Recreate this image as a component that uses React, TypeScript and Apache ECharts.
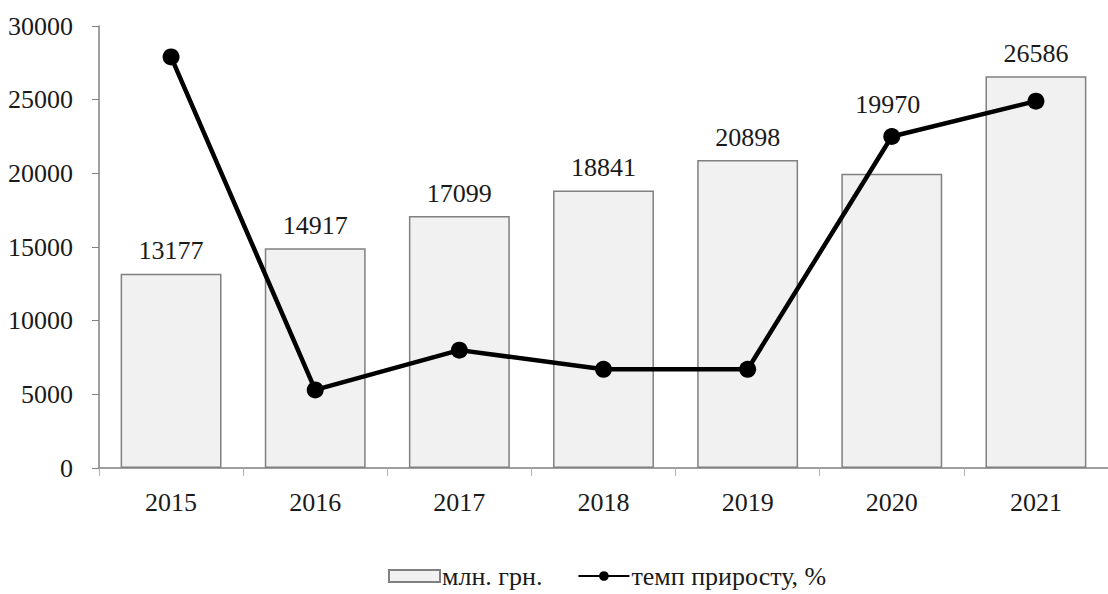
import React, { useEffect, useRef } from "react";
import * as echarts from "echarts";

// Years on the category axis
const years = ["2015", "2016", "2017", "2018", "2019", "2020", "2021"];
// Volume, млн. грн.
const volume = [13177, 14917, 17099, 18841, 20898, 19970, 26586];
// Growth rate, % (drawn on a hidden secondary axis)
const growth = [27.9, 5.3, 8.0, 6.7, 6.7, 22.5, 24.9];

const FONT = "Times New Roman, Liberation Serif, DejaVu Serif, serif";
const TEXT = "#1a1a1a";
const AXIS = "#808080";
const FS = 26;

export default function App() {
  const ref = useRef<HTMLDivElement>(null);

  useEffect(() => {
    if (!ref.current) return;
    const chart = echarts.init(ref.current, undefined, { renderer: "svg" });

    const barData = volume.map((v, i) =>
      // the 2020 label sits above the line marker
      i === 5 ? { value: v, label: { distance: 56, offset: [-4, 0] } } : v
    );

    chart.setOption({
      animation: false,
      backgroundColor: "#ffffff",
      textStyle: { fontFamily: FONT },
      grid: { left: 99, right: -4, top: 26, bottom: 126, containLabel: false },
      legend: {
        left: 383,
        top: 558,
        itemWidth: 51,
        itemHeight: 12,
        itemGap: 35,
        textStyle: { fontFamily: FONT, fontSize: FS, color: TEXT, padding: [0, 0, 0, -3] },
        data: [
          { name: "млн. грн.", icon: "rect" },
          { name: "темп приросту, %" },
        ],
      },
      xAxis: {
        type: "category",
        data: years,
        boundaryGap: true,
        axisLine: { lineStyle: { color: AXIS, width: 1.5 } },
        axisTick: { show: true, length: 8, lineStyle: { color: "#b0b0b0" } },
        axisLabel: { fontFamily: FONT, fontSize: FS, color: TEXT, margin: 21 },
      },
      yAxis: [
        {
          type: "value",
          min: 0,
          max: 30000,
          interval: 5000,
          splitLine: { show: false },
          axisLine: { show: true, lineStyle: { color: AXIS, width: 1.5 } },
          axisTick: { show: true, length: 7, lineStyle: { color: AXIS } },
          axisLabel: {
            fontFamily: FONT,
            fontSize: FS,
            color: TEXT,
            margin: 26,
            formatter: (v: number) => String(v),
          },
        },
        {
          type: "value",
          min: 0,
          max: 30,
          show: false,
          splitLine: { show: false },
        },
      ],
      series: [
        {
          name: "млн. грн.",
          type: "bar",
          data: barData,
          barWidth: "70%",
          itemStyle: { color: "#f1f1f1", borderColor: AXIS, borderWidth: 1.5 },
          label: {
            show: true,
            position: "top",
            distance: 10,
            fontFamily: FONT,
            fontSize: FS,
            color: TEXT,
          },
        },
        {
          name: "темп приросту, %",
          type: "line",
          yAxisIndex: 1,
          data: growth,
          symbol: "circle",
          symbolSize: 17,
          itemStyle: { color: "#000000" },
          lineStyle: { color: "#000000", width: 4.5 },
          z: 5,
        },
      ],
    });

    return () => chart.dispose();
  }, []);

  return (
    <div
      ref={ref}
      style={{ position: "absolute", left: 0, top: 0, width: 1108, height: 594 }}
    />
  );
}
